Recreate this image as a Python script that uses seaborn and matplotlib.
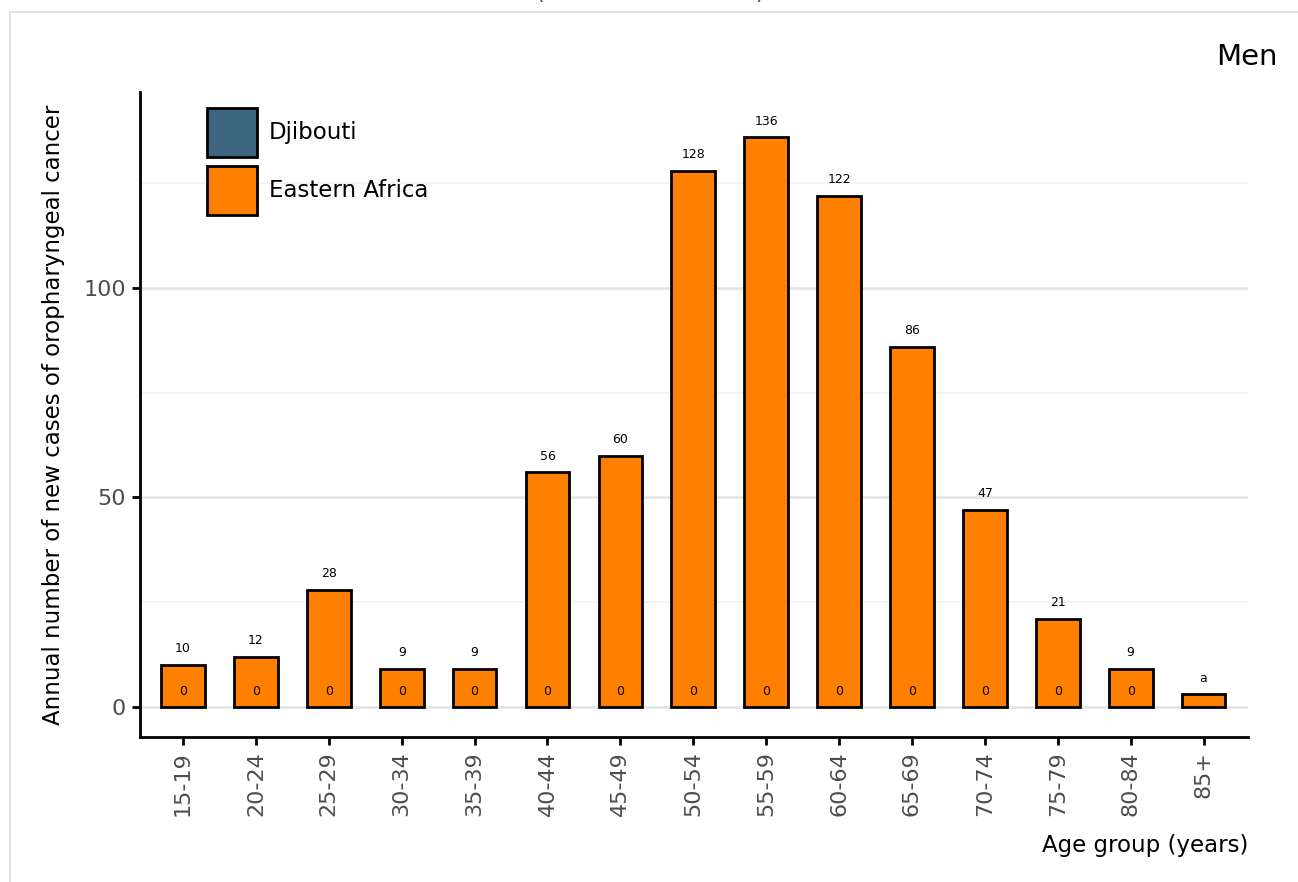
import matplotlib
matplotlib.use("Agg")
import matplotlib.pyplot as plt
import seaborn as sns
import pandas as pd
from matplotlib.patches import Patch, Rectangle

age_groups = ["15-19", "20-24", "25-29", "30-34", "35-39", "40-44", "45-49",
              "50-54", "55-59", "60-64", "65-69", "70-74", "75-79", "80-84", "85+"]
eastern_africa = [10, 12, 28, 9, 9, 56, 60, 128, 136, 122, 86, 47, 21, 9, 3]
eastern_labels = ["10", "12", "28", "9", "9", "56", "60", "128", "136", "122", "86", "47", "21", "9", "a"]
djibouti = [0, 0, 0, 0, 0, 0, 0, 0, 0, 0, 0, 0, 0, 0, None]

ORANGE = "#FF7F00"
BLUE = "#3E6580"

sns.set_theme(style="white")
plt.rcParams["font.family"] = ["DejaVu Sans"]

fig = plt.figure(figsize=(12.98, 8.82), dpi=100)
ax = fig.add_axes([140/1298, 1-737/882, (1248-140)/1298, (737-92)/882])

df = pd.DataFrame({"age": age_groups, "cases": eastern_africa})
sns.barplot(data=df, x="age", y="cases", color=ORANGE, width=0.6,
            edgecolor="black", linewidth=2, saturation=1, ax=ax, zorder=3)

ax.set_ylim(-7.2, 146.8)
ax.set_xlim(-0.59, 14.61)

for y in [25, 75, 125]:
    ax.axhline(y, color="#f3f3f3", lw=1.3, zorder=0)
for y in [0, 50, 100]:
    ax.axhline(y, color="#e3e3e3", lw=1.8, zorder=0)

for i, (v, lab) in enumerate(zip(eastern_africa, eastern_labels)):
    ax.annotate(lab, (i, v), xytext=(0, 7), textcoords="offset points",
                ha="center", va="bottom", fontsize=9, color="black", zorder=5)
for i, d in enumerate(djibouti):
    if d is not None:
        ax.annotate(str(d), (i, 0), xytext=(0, 11), textcoords="offset points",
                    ha="center", va="center", fontsize=9, color="black", zorder=5)

ax.set_yticks([0, 50, 100])
ax.set_yticklabels(["0", "50", "100"], fontsize=16, color="#4d4d4d")
ax.set_xticks(range(len(age_groups)))
ax.set_xticklabels(age_groups, rotation=90, fontsize=16, color="#4d4d4d")
ax.tick_params(axis="both", length=6, width=2, color="black", bottom=True, left=True, pad=4)

for s in ["top", "right"]:
    ax.spines[s].set_visible(False)
for s in ["left", "bottom"]:
    ax.spines[s].set_linewidth(2)
    ax.spines[s].set_color("black")

ax.set_ylabel("Annual number of new cases of oropharyngeal cancer", fontsize=16.5, color="black", labelpad=13)
ax.set_xlabel("Age group (years)", fontsize=16.5, color="black", loc="right", labelpad=13)

handles = [Patch(facecolor=BLUE, edgecolor="black", linewidth=2, label="Djibouti"),
           Patch(facecolor=ORANGE, edgecolor="black", linewidth=2, label="Eastern Africa")]
leg = ax.legend(handles=handles, loc="upper left", bbox_to_anchor=(0.046, 1.0), frameon=False,
                fontsize=16.5, handlelength=2.2, handleheight=2.9, labelspacing=0.4,
                handletextpad=0.5, borderaxespad=0.3)
for t in leg.get_texts():
    t.set_color("black")

fig.text(1278/1298, 1-57/882, "Men", ha="right", va="center", fontsize=21, color="black")
fig.text(650/1298, 1.008, "(estimates for 2020)", ha="center", va="center", fontsize=16, color="#4d4d4d")

fig.patches.append(Rectangle((10/1298, -0.1), 1.2, 1-12/882+0.1, transform=fig.transFigure,
                             fill=False, edgecolor="#dddddd", lw=1.2))

fig.savefig("out.png", dpi=100)
